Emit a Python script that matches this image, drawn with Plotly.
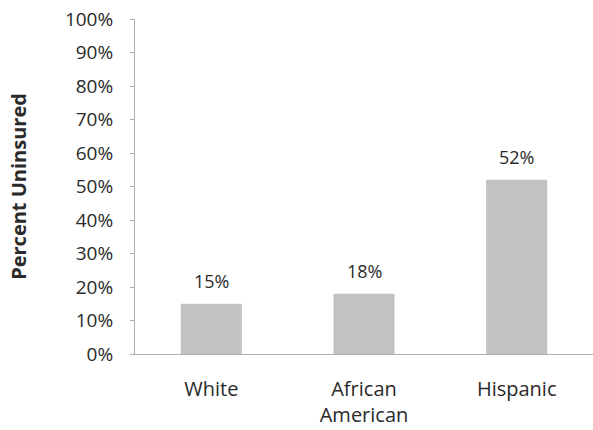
import plotly.graph_objects as go

categories = ["White", "African<br>American", "Hispanic"]
values = [15, 18, 52]
labels = ["15%", "18%", "52%"]
tick_vals = [0, 10, 20, 30, 40, 50, 60, 70, 80, 90, 100]
tick_text = ["0%", "10%", "20%", "30%", "40%", "50%", "60%", "70%", "80%", "90%", "100%"]

FONT = "Open Sans, Liberation Sans, sans-serif"
TXT = "#2a2a2a"

fig = go.Figure(go.Bar(
    x=categories, y=values,
    marker=dict(color="#c2c2c2", line=dict(width=0)),
    cliponaxis=False,
))

for c, v, t in zip(categories, values, labels):
    fig.add_annotation(x=c, y=v, text=t, showarrow=False, yanchor="bottom",
                       yshift=9, font=dict(size=18, family=FONT, color=TXT))

fig.update_layout(
    width=593, height=430,
    margin=dict(l=135, r=0, t=19, b=76),
    paper_bgcolor="white", plot_bgcolor="white",
    bargap=0.6,
    showlegend=False,
    font=dict(family=FONT, size=18, color=TXT),
    yaxis=dict(
        range=[0, 100], tickvals=tick_vals, ticktext=tick_text,
        showgrid=False, zeroline=False, automargin=False,
        showline=True, linecolor="#b0b0b0", linewidth=1,
        ticks="outside", ticklen=4, tickcolor="#b0b0b0",
        tickfont=dict(size=19, family=FONT, color=TXT),
        ticklabelstandoff=13,
        title=dict(text="<b>Percent Uninsured</b>", font=dict(size=20, family=FONT, color=TXT), standoff=32),
    ),
    xaxis=dict(
        showgrid=False, zeroline=False, automargin=False,
        showline=True, linecolor="#b0b0b0", linewidth=1,
        ticks="", tickfont=dict(size=20, family=FONT, color=TXT),
        ticklabelstandoff=17,
    ),
)

fig.write_html("out.html")
